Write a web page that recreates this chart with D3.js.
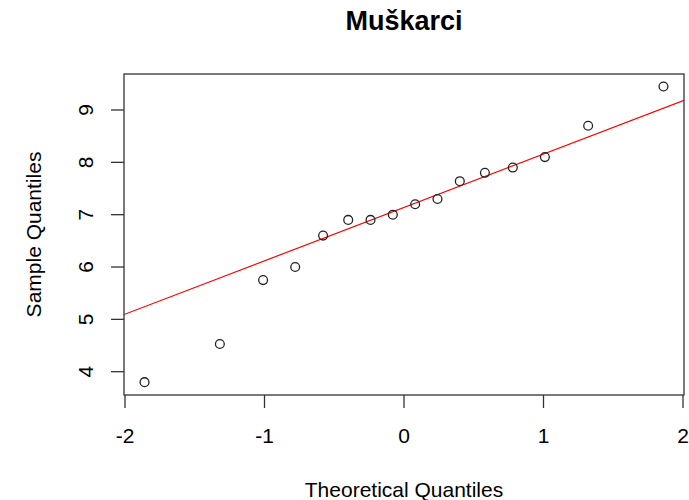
<!DOCTYPE html>
<html>
<head>
<meta charset="utf-8">
<script src="https://cdn.jsdelivr.net/npm/d3@7"></script>
<style>
  body { margin: 0; background: white; }
  text { font-family: "Liberation Sans", Arial, sans-serif; fill: #000; }
</style>
</head>
<body>
<div id="chart"></div>
<script>
// theoretical quantiles (x) and sample values (y)
const theoretical = [-1.86, -1.32, -1.01, -0.78, -0.58, -0.40, -0.24, -0.08,
                      0.08, 0.24, 0.40, 0.58, 0.78, 1.01, 1.32, 1.86]
const sample = [3.8, 4.53, 5.75, 6.0, 6.6, 6.9, 6.9, 7.0,
                7.2, 7.3, 7.64, 7.8, 7.9, 8.1, 8.7, 9.45]
const xTicks = [-2, -1, 0, 1, 2]
const yTicks = [4, 5, 6, 7, 8, 9]

const W = 689, H = 500
const BOX = { LEFT: 124, RIGHT: 684, TOP: 74, BOTTOM: 395 }

const svg = d3.select("#chart").append("svg")
  .attr("width", W)
  .attr("height", H)

svg.append("rect")
  .attr("width", W)
  .attr("height", H)
  .attr("fill", "white")

const x = d3.scaleLinear().domain([-2, 2]).range([125, 683])
const y = d3.scaleLinear().domain([4, 9]).range([371.7, 110])

// qqline: through the first and third quartiles
const q1 = d3.quantile(sample, 0.25), q3 = d3.quantile(sample, 0.75)
const z = 0.6745
const slope = (q3 - q1) / (2 * z)
const intercept = q1 + slope * z

svg.append("clipPath").attr("id", "clip")
  .append("rect")
  .attr("x", BOX.LEFT).attr("y", BOX.TOP)
  .attr("width", BOX.RIGHT - BOX.LEFT)
  .attr("height", BOX.BOTTOM - BOX.TOP)

const x0 = x.invert(BOX.LEFT), x1 = x.invert(BOX.RIGHT)
svg.append("line")
  .attr("clip-path", "url(#clip)")
  .attr("x1", x(x0)).attr("y1", y(intercept + slope * x0))
  .attr("x2", x(x1)).attr("y2", y(intercept + slope * x1))
  .attr("stroke", "#ff0000")
  .attr("stroke-width", 1.2)

svg.append("g")
  .selectAll("circle")
  .data(theoretical)
  .enter()
  .append("circle")
    .attr("cx", d => x(d))
    .attr("cy", (d, i) => y(sample[i]))
    .attr("r", 4.4)
    .attr("fill", "none")
    .attr("stroke", "#222")
    .attr("stroke-width", 1.3)

// plot box
svg.append("rect")
  .attr("x", BOX.LEFT).attr("y", BOX.TOP)
  .attr("width", BOX.RIGHT - BOX.LEFT)
  .attr("height", BOX.BOTTOM - BOX.TOP)
  .attr("fill", "none")
  .attr("stroke", "#333")
  .attr("stroke-width", 1.3)

// x axis
const xAxis = svg.append("g")
xAxis.selectAll("line")
  .data(xTicks).enter().append("line")
    .attr("x1", d => x(d)).attr("x2", d => x(d))
    .attr("y1", BOX.BOTTOM).attr("y2", BOX.BOTTOM + 13)
    .attr("stroke", "#333").attr("stroke-width", 1.3)
xAxis.selectAll("text")
  .data(xTicks).enter().append("text")
    .attr("x", d => x(d))
    .attr("y", 443)
    .attr("text-anchor", "middle")
    .style("font-size", "21px")
    .text(d => d)

// y axis
const yAxis = svg.append("g")
yAxis.selectAll("line")
  .data(yTicks).enter().append("line")
    .attr("x1", BOX.LEFT - 13).attr("x2", BOX.LEFT)
    .attr("y1", d => y(d)).attr("y2", d => y(d))
    .attr("stroke", "#333").attr("stroke-width", 1.3)
yAxis.selectAll("text")
  .data(yTicks).enter().append("text")
    .attr("transform", d => `translate(93, ${y(d)}) rotate(-90)`)
    .attr("text-anchor", "middle")
    .style("font-size", "21px")
    .text(d => d)

// titles
svg.append("text")
  .attr("x", 404).attr("y", 30)
  .attr("text-anchor", "middle")
  .style("font-size", "27px")
  .style("font-weight", "bold")
  .text("Muškarci")

svg.append("text")
  .attr("x", 404).attr("y", 497)
  .attr("text-anchor", "middle")
  .style("font-size", "21px")
  .text("Theoretical Quantiles")

svg.append("text")
  .attr("transform", `translate(41, ${(BOX.TOP + BOX.BOTTOM) / 2}) rotate(-90)`)
  .attr("text-anchor", "middle")
  .style("font-size", "21px")
  .text("Sample Quantiles")
</script>
</body>
</html>
